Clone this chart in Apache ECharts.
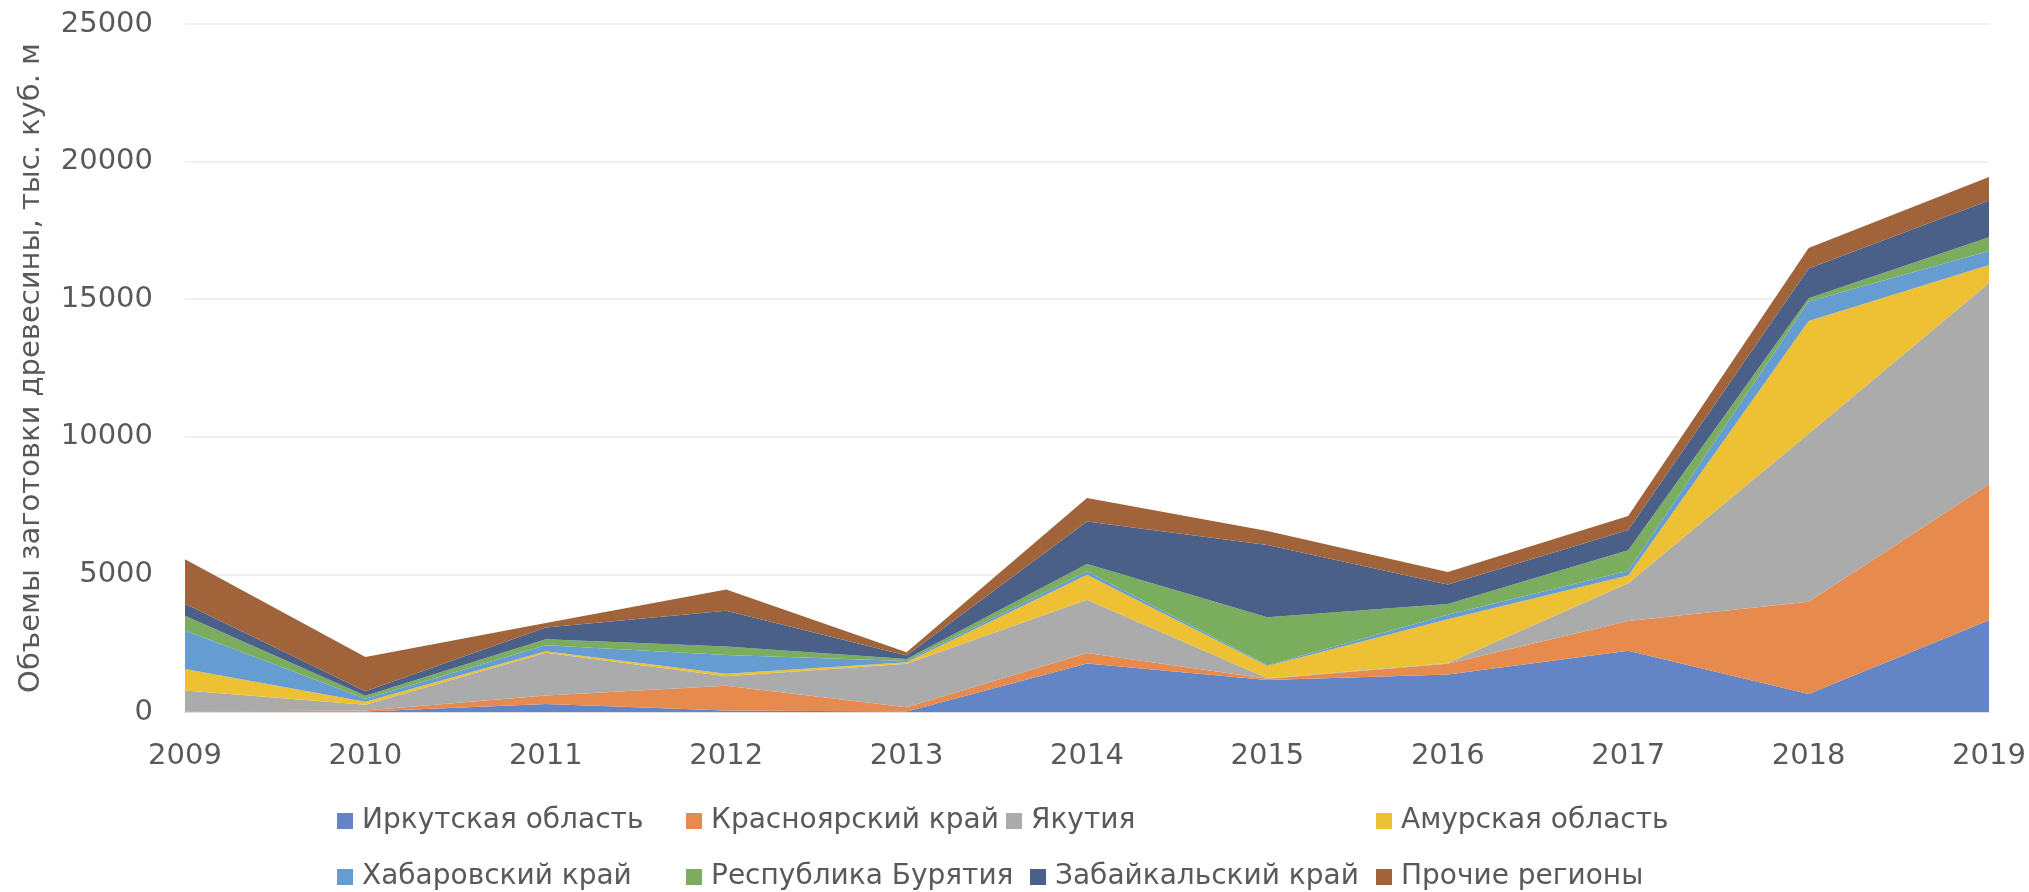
<!DOCTYPE html>
<html>
<head>
<meta charset="utf-8">
<script src="https://cdn.jsdelivr.net/npm/echarts@6/dist/echarts.min.js"></script>
<style>
html,body{margin:0;padding:0;background:#fff;}
#chart{width:2029px;height:892px;}
</style>
</head>
<body>
<div id="chart"></div>
<script>
const years = ['2009','2010','2011','2012','2013','2014','2015','2016','2017','2018','2019'];
const seriesNames = ['Иркутская область','Красноярский край','Якутия','Амурская область','Хабаровский край','Республика Бурятия','Забайкальский край','Прочие регионы'];
const irkutsk     = [10, 20, 290, 50, 20, 1760, 1160, 1360, 2230, 650, 3330];
const krasnoyarsk = [10, 30, 310, 900, 150, 380, 50, 390, 1080, 3360, 4950];
const yakutia     = [760, 210, 1550, 350, 1580, 1940, 20, 30, 1370, 6100, 7310];
const amur        = [780, 110, 60, 90, 60, 910, 440, 1590, 280, 4100, 650];
const khabarovsk  = [1400, 110, 220, 680, 40, 120, 30, 160, 170, 710, 510];
const buryatia    = [540, 110, 210, 310, 80, 270, 1740, 390, 750, 110, 500];
const zabaikal    = [430, 160, 430, 1300, 120, 1540, 2630, 710, 730, 1090, 1340];
const others      = [1620, 1250, 160, 770, 120, 860, 510, 460, 510, 740, 850];
const yTicks = [0, 5000, 10000, 15000, 20000, 25000];
const yTitle = 'Объемы заготовки древесины, тыс. куб. м';

const values = [irkutsk, krasnoyarsk, yakutia, amur, khabarovsk, buryatia, zabaikal, others];
const colors = ['#6385C6','#E68A4E','#ABABAB','#EEC033','#659CD2','#7BAD5E','#4A6089','#A0633A'];

const FONT = 'DejaVu Sans';
const textColor = '#595959';

const legendPos = [
  [337, 807], [686, 807], [1006, 807], [1376, 807],
  [337, 863], [686, 863], [1030, 863], [1376, 863]
];

const chart = echarts.init(document.getElementById('chart'), null, {renderer:'canvas'});
const option = {
  animation: false,
  color: colors,
  grid: {left: 185, right: 40, top: 24, bottom: 180, containLabel: false},
  legend: seriesNames.map((n, i) => ({
    data: [n],
    left: legendPos[i][0],
    top: legendPos[i][1],
    icon: 'rect',
    itemWidth: 16,
    itemHeight: 16,
    itemGap: 6,
    padding: 0,
    selectedMode: false,
    textStyle: {fontFamily: FONT, fontSize: 28, color: textColor, padding: [0,0,0,4]}
  })),
  xAxis: {
    type: 'category',
    boundaryGap: false,
    data: years,
    axisLine: {lineStyle: {color: '#D9D9D9', width: 1.5}},
    axisTick: {show: false},
    axisLabel: {fontFamily: FONT, fontSize: 29, color: textColor, margin: 30}
  },
  yAxis: {
    type: 'value',
    min: yTicks[0],
    max: yTicks[yTicks.length-1],
    interval: yTicks[1] - yTicks[0],
    name: yTitle,
    nameLocation: 'middle',
    nameGap: 139,
    nameTextStyle: {fontFamily: FONT, fontSize: 29, color: textColor},
    axisLine: {show: false},
    axisTick: {show: false},
    splitLine: {lineStyle: {color: '#EBEBEB', width: 1.5}},
    axisLabel: {fontFamily: FONT, fontSize: 29, color: textColor, margin: 32, formatter: v => String(v)}
  },
  series: seriesNames.map((n, i) => ({
    name: n,
    type: 'line',
    stack: 'total',
    data: values[i],
    symbol: 'none',
    showSymbol: false,
    lineStyle: {width: 0},
    areaStyle: {color: colors[i], opacity: 1},
    emphasis: {disabled: true}
  }))
};
chart.setOption(option);
</script>
</body>
</html>
